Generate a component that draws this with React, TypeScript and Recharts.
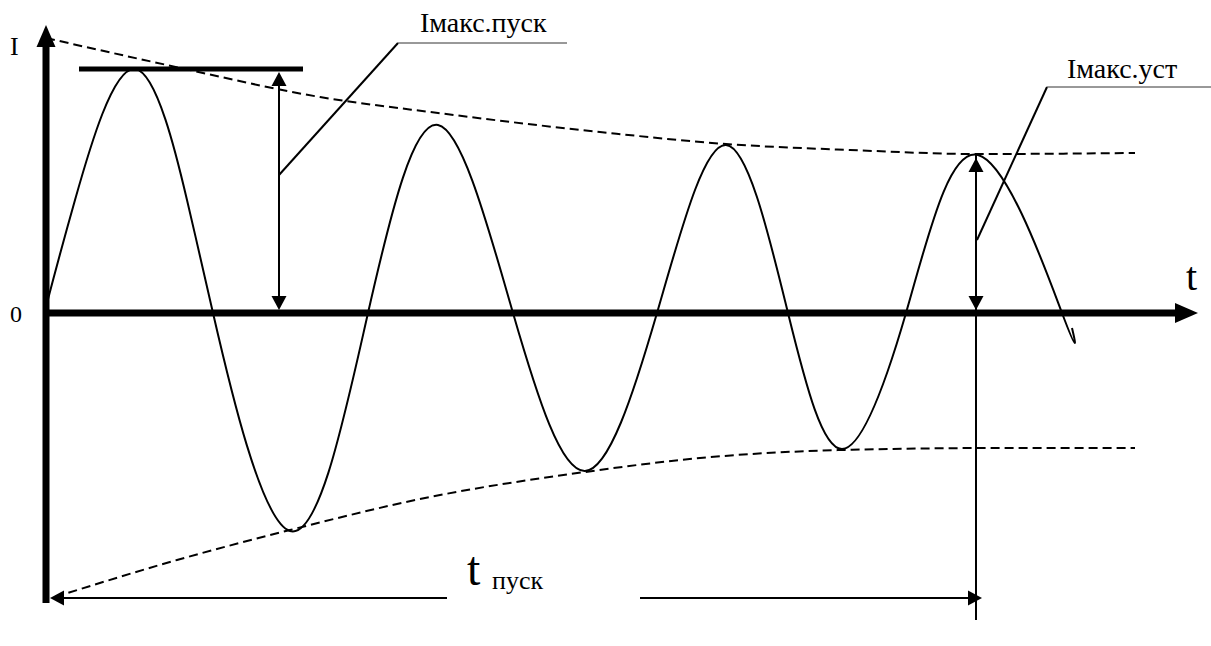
import { LineChart, Line, XAxis, YAxis, ReferenceLine, ReferenceDot } from 'recharts';

// Пусковий струм: затухаюча синусоїда. t - умовні одиниці часу, I - умовні одиниці струму
const waveT = [0.1, 2.9, 8.9, 14.1, 16.7, 24.4, 32.2, 39.2, 46.7, 53.9, 61.1, 68.0, 74.2, 79.6, 86.0, 93.2, 101.6, 102.6];
const waveI = [1.0, 11.3, 24.4, 11.3, 0, -21.8, 0, 18.8, 0, -15.8, 0, 16.8, 0, -13.6, 0, 15.8, 0, -1.5];

// обвідні (пунктир)
const upperT = [0, 12.1, 27.4, 39.2, 55.4, 68.0, 80.4, 93.2, 108.9];
const upperI = [27.5, 24.8, 21.6, 20.0, 18.1, 16.9, 16.3, 15.9, 16.0];
const lowerT = [0.9, 13.1, 24.4, 38.4, 53.9, 65.4, 79.6, 95.4, 108.9];
const lowerI = [-28.4, -24.7, -21.7, -18.4, -15.9, -14.5, -13.7, -13.5, -13.5];

// осі
const axisTSpan = [-0.3, 115.2];
const axisISpan = [-29.0, 28.8];

// Імакс.пуск / Імакс.уст
const peakBarT = [3.3, 25.7];
const peakBarI = 24.4;
const measureT = [23.3, 93.0];
const measureTop = [24.1, 15.5];
const measureBottom = 0.3;
const leaderFrom = [[23.3, 13.8], [93.1, 7.3]];
const leaderKnee = [[35.2, 27.0], [100.1, 22.6]];
const leaderEndT = [52.1, 116.5];
const leaderText = ['Імакс.пуск', 'Імакс.уст'];
const leaderTextAt = [[37.4, 28.1], [102.1, 23.5]];

// t пуск
const tPuskLevel = -28.5;
const tPuskSpan = [0.4, 93.6];
const tPuskGap = [40.1, 59.4];
const steadyLineI = [15.8, -30.7];

const zip = (ts: number[], is: number[]) => ts.map((t, k) => ({ t, i: is[k] }));
const wave = zip(waveT, waveI);
const upper = zip(upperT, upperI);
const lower = zip(lowerT, lowerI);

const FONT = "'Liberation Serif', 'DejaVu Serif', serif";

type ArrowOpts = { start?: boolean; end?: boolean; w?: number; len?: number; half?: number; color?: string };

const arrow = ({ start = false, end = false, w = 2, len = 14, half = 7.5, color = '#000' }: ArrowOpts) => (p: any) => {
  const { x1, y1, x2, y2 } = p;
  const dx = x2 - x1;
  const dy = y2 - y1;
  const d = Math.hypot(dx, dy) || 1;
  const ux = dx / d;
  const uy = dy / d;
  const px = -uy;
  const py = ux;
  const head = (tx: number, ty: number, sx: number, sy: number) => {
    const bx = tx - sx * len;
    const by = ty - sy * len;
    return `${tx},${ty} ${bx + px * half},${by + py * half} ${bx - px * half},${by - py * half}`;
  };
  const ax = start ? x1 + ux * len * 0.8 : x1;
  const ay = start ? y1 + uy * len * 0.8 : y1;
  const bx = end ? x2 - ux * len * 0.8 : x2;
  const by = end ? y2 - uy * len * 0.8 : y2;
  return (
    <g>
      <line x1={ax} y1={ay} x2={bx} y2={by} stroke={color} strokeWidth={w} />
      {start && <polygon points={head(x1, y1, -ux, -uy)} fill={color} />}
      {end && <polygon points={head(x2, y2, ux, uy)} fill={color} />}
    </g>
  );
};

const label = (text: string, size: number) => (p: any) => (
  <text x={p.cx} y={p.cy} fontSize={size} fontFamily={FONT} fill="#000">
    {text}
  </text>
);

export default function App() {
  return (
    <div style={{ position: 'absolute', left: 0, top: 0, background: '#fff' }}>
      <LineChart width={1211} height={646} margin={{ top: 0, right: 0, bottom: 0, left: 0 }}>
        <XAxis dataKey="t" type="number" scale="linear" domain={[-4.6, 116.5]} allowDataOverflow hide />
        <YAxis type="number" scale="linear" domain={[-33.3, 31.3]} allowDataOverflow hide />

        {/* обвідні */}
        <Line data={upper} dataKey="i" type="monotone" stroke="#000" strokeWidth={2} strokeDasharray="9 5" dot={false} activeDot={false} isAnimationActive={false} />
        <Line data={lower} dataKey="i" type="monotone" stroke="#000" strokeWidth={2} strokeDasharray="9 5" dot={false} activeDot={false} isAnimationActive={false} />

        {/* струм */}
        <Line data={wave} dataKey="i" type="natural" stroke="#000" strokeWidth={2} dot={false} activeDot={false} isAnimationActive={false} />

        {/* осі */}
        <ReferenceLine segment={[{ x: 0, y: axisISpan[0] }, { x: 0, y: axisISpan[1] }]} shape={arrow({ end: true, w: 7, len: 22, half: 9.5 })} />
        <ReferenceLine segment={[{ x: axisTSpan[0], y: 0 }, { x: axisTSpan[1], y: 0 }]} shape={arrow({ end: true, w: 7, len: 23, half: 10 })} />

        {/* Імакс.пуск, Імакс.уст */}
        <ReferenceLine segment={[{ x: peakBarT[0], y: peakBarI }, { x: peakBarT[1], y: peakBarI }]} shape={arrow({ w: 5 })} />
        {measureT.map((t, k) => (
          <ReferenceLine key={`m${k}`} segment={[{ x: t, y: measureTop[k] }, { x: t, y: measureBottom }]} shape={arrow({ start: true, end: true })} />
        ))}
        {leaderFrom.map((f, k) => (
          <ReferenceLine key={`l${k}`} segment={[{ x: f[0], y: f[1] }, { x: leaderKnee[k][0], y: leaderKnee[k][1] }]} shape={arrow({ w: 2 })} />
        ))}
        {leaderKnee.map((f, k) => (
          <ReferenceLine key={`h${k}`} segment={[{ x: f[0], y: f[1] }, { x: leaderEndT[k], y: f[1] }]} shape={arrow({ w: 1, color: '#333' })} />
        ))}
        {leaderText.map((s, k) => (
          <ReferenceDot key={`t${k}`} x={leaderTextAt[k][0]} y={leaderTextAt[k][1]} r={1} shape={label(s, 28)} />
        ))}

        {/* t пуск */}
        <ReferenceLine segment={[{ x: measureT[1], y: steadyLineI[0] }, { x: measureT[1], y: steadyLineI[1] }]} shape={arrow({ w: 2 })} />
        <ReferenceLine segment={[{ x: tPuskSpan[0], y: tPuskLevel }, { x: tPuskGap[0], y: tPuskLevel }]} shape={arrow({ start: true })} />
        <ReferenceLine segment={[{ x: tPuskGap[1], y: tPuskLevel }, { x: tPuskSpan[1], y: tPuskLevel }]} shape={arrow({ end: true })} />
        <ReferenceDot x={42.1} y={-27.2} r={1} shape={label('t', 48)} />
        <ReferenceDot x={44.6} y={-27.6} r={1} shape={label('пуск', 26)} />

        {/* підписи осей */}
        <ReferenceDot x={-3.6} y={25.8} r={1} shape={label('I', 26)} />
        <ReferenceDot x={-3.6} y={-0.9} r={1} shape={label('0', 24)} />
        <ReferenceDot x={114.0} y={2.3} r={1} shape={label('t', 40)} />
      </LineChart>
    </div>
  );
}
